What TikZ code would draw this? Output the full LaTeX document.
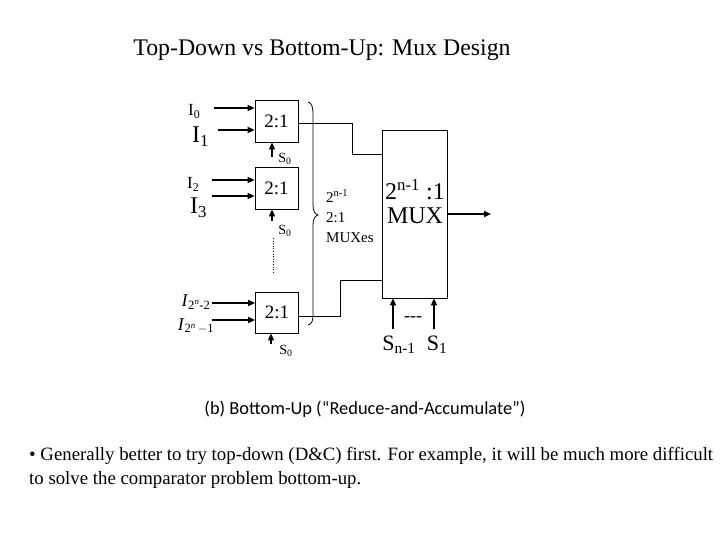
\documentclass[tikz,border=0pt]{standalone}
\usepackage{fontspec}
\setmainfont{Liberation Serif}
\newfontfamily\capfont{Carlito}
\usetikzlibrary{arrows.meta}
\newcommand{\fs}[1]{\fontsize{#1}{#1}\selectfont}
\begin{document}
\begin{tikzpicture}[x=1pt,y=-1pt,
  muxbox/.style={draw,line width=0.8pt,minimum width=43pt,minimum height=42pt,inner sep=0pt,font=\fs{19}},
  inarrow/.style={line width=1.7pt,-{Triangle[length=7pt,width=6pt]}},
  selarrow/.style={line width=1.7pt,-{Triangle[length=7pt,width=6pt]}},
  wire/.style={line width=0.8pt},
  lbl/.style={inner sep=0pt},
  inlbl/.style={inner sep=0pt,anchor=base west},
]
\useasboundingbox (0,0) rectangle (720,540);
% title
\node[lbl,font=\fs{23.8}] (title) at (322,50) {Top-Down vs Bottom-Up: Mux Design};
% muxes
\node[muxbox] (mux1) at (276.5,121) {2:1};
\node[muxbox] (mux2) at (276.5,188) {2:1};
\node[muxbox,minimum height=41pt] (mux3) at (277,312.5) {2:1};
\node[draw,line width=0.8pt,minimum width=65pt,minimum height=168pt,inner sep=0pt] (big) at (414.5,214) {};
\node[lbl,font=\fs{24}] (bigt1) at (415,190) {2\textsuperscript{n-1} :1};
\node[lbl,font=\fs{24}] (bigt2) at (415,216) {MUX};
% input labels
\node[inlbl,font=\fs{17}] (l0) at (188,116) {I\textsubscript{0}};
\node[inlbl,font=\fs{24}] (l1) at (192,143) {I\textsubscript{1}};
\node[inlbl,font=\fs{17}] (l2) at (187,189) {I\textsubscript{2}};
\node[inlbl,font=\fs{24}] (l3) at (190,214) {I\textsubscript{3}};
\node[lbl,font=\fs{18}] (l4) at (196,302) {\textit{I}\textsubscript{2\textsuperscript{\textit{n}}-2}};
\node[lbl,font=\fs{18}] (l5) at (196,326) {\textit{I}\textsubscript{2\textsuperscript{\textit{n}}\,$-$1}};
% input arrows
\coordinate (i0) at (214,108);
\coordinate (i1) at (218,130);
\coordinate (i2) at (212,180);
\coordinate (i3) at (212,196);
\coordinate (i4) at (212,303);
\coordinate (i5) at (212,320);
\draw[inarrow] (i0) -- (i0 -| mux1.west);
\draw[inarrow] (i1) -- (i1 -| mux1.west);
\draw[inarrow] (i2) -- (i2 -| mux2.west);
\draw[inarrow] (i3) -- (i3 -| mux2.west);
\draw[inarrow] (i4) -- (i4 -| mux3.west);
\draw[inarrow] (i5) -- (i5 -| mux3.west);
% select S0
\coordinate (s1) at (272,157);
\coordinate (s2) at (272,221);
\coordinate (s3) at (271,344);
\draw[selarrow] (s1) -- (s1 |- mux1.south);
\draw[selarrow] (s2) -- (s2 |- mux2.south);
\draw[selarrow] (s3) -- (s3 |- mux3.south);
\node[lbl,font=\fs{14}] (sl1) at (285,159) {S\textsubscript{0}};
\node[lbl,font=\fs{14}] (sl2) at (285,231) {S\textsubscript{0}};
\node[lbl,font=\fs{14}] (sl3) at (286,351) {S\textsubscript{0}};
% dotted
\coordinate (d1) at (273,238);
\coordinate (d2) at (273,273);
\draw[line width=0.6pt,dotted] (d1) -- (d2);
% wires to big mux
\coordinate (b1) at (352,154);
\coordinate (b3) at (340,280);
\draw[wire] ([yshift=-2.5pt]mux1.east) -| (b1) -- (b1 -| big.west);
\draw[wire] ([yshift=-4pt]mux3.east) -| (b3) -- (b3 -| big.west);
% brace
\draw[wire] (308,102) .. controls (312,103) and (313,107) .. (313,115) -- (313,205)
  .. controls (313,211) and (315,214) .. (318,215)
  .. controls (315,216) and (313,219) .. (313,225) -- (313,314)
  .. controls (313,321) and (312,324) .. (308,325);
\node[lbl,font=\fs{15},anchor=west] (bt1) at (326,196) {2\textsuperscript{n-1}};
\node[lbl,font=\fs{15},anchor=west] (bt2) at (326,218) {2:1};
\node[lbl,font=\fs{15},anchor=west] (bt3) at (326,238) {MUXes};
% output
\coordinate (out) at (491,214);
\draw[inarrow] (big.east) -- (out);
% bottom selects
\coordinate (sn) at (393,329);
\coordinate (s1b) at (434,329);
\draw[selarrow] (sn) -- (sn |- big.south);
\draw[selarrow] (s1b) -- (s1b |- big.south);
\node[lbl,font=\fs{18}] (dash) at (413,319) {-{}-{}-};
\node[lbl,font=\fs{22}] (snl) at (399,345) {S\textsubscript{n-1}};
\node[lbl,font=\fs{22}] (s1l) at (437,345) {S\textsubscript{1}};
% caption
\node[lbl,font=\capfont\fs{18.4}] (cap) at (365,409) {(b) Bottom-Up (“Reduce-and-Accumulate”)};
% bullet text
\node[lbl,font=\fs{18.8},anchor=west] (txt1) at (29,456) {• Generally better to try top-down (D\&C) first. For example, it will be much more difficult};
\node[lbl,font=\fs{18.8},anchor=west] (txt2) at (29,480) {to solve the comparator problem bottom-up.};
\end{tikzpicture}
\end{document}
